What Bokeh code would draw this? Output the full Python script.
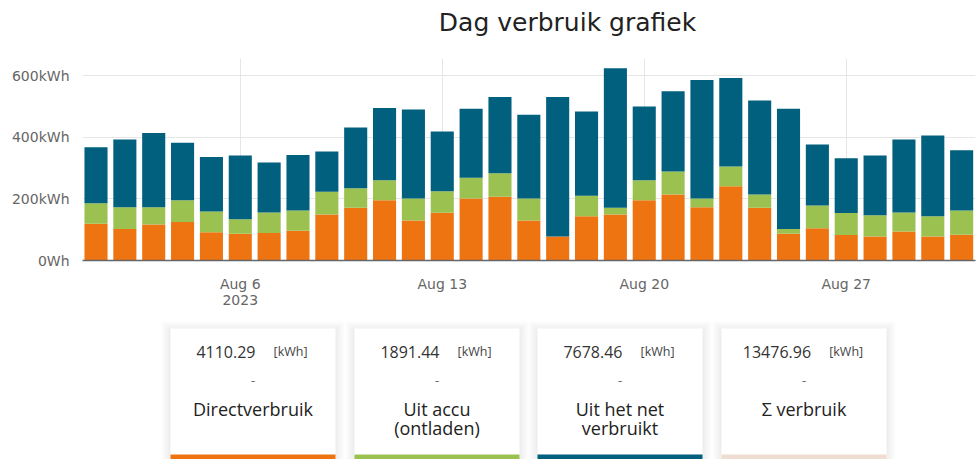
from bokeh.plotting import figure
from bokeh.models import ColumnDataSource, Range1d, FixedTicker
from bokeh.layouts import column
from bokeh.core.properties import value
from bokeh.embed import file_html
from bokeh.resources import INLINE

# ---------------- data ----------------
days = list(range(1, 32))  # August 2023
direct = [119, 102, 117, 125, 92, 87, 89, 97, 149, 171, 196, 130, 155, 201, 207, 130,
          78, 144, 149, 196, 214, 173, 241, 171, 87, 105, 83, 78, 94, 78, 84]
accu = [67, 71, 56, 71, 67, 47, 67, 65, 74, 64, 65, 71, 70, 68, 76, 71,
        0, 66, 22, 65, 75, 28, 64, 43, 15, 74, 71, 69, 62, 66, 78]
net = [182, 220, 241, 186, 177, 207, 162, 181, 131, 197, 234, 289, 194, 224, 248, 272,
       453, 274, 453, 239, 261, 385, 288, 306, 391, 198, 178, 194, 237, 262, 196]
series = ["direct", "accu", "net"]
colors = ["#EE7412", "#9BC250", "#00607D"]

title_text = "Dag verbruik grafiek"
x_ticks = [6, 13, 20, 27]
x_tick_labels = ["Aug 6\n2023", "Aug 13", "Aug 20", "Aug 27"]
y_ticks = [0, 200, 400, 600]
y_tick_labels = ["0Wh", "200kWh", "400kWh", "600kWh"]

card_values = ["4110.29", "1891.44", "7678.46", "13476.96"]
card_unit = "[kWh]"
card_labels = [["Directverbruik"], ["Uit accu", "(ontladen)"],
               ["Uit het net", "verbruikt"], ["\u03a3 verbruik"]]
card_colors = ["#EE7412", "#9BC250", "#00607D", "#EEDDD0"]

# ---------------- layout constants ----------------
W = 979
TITLE_H = 50
TOP_H = 268
BOT_H = 141
FL, FR = 82, 975          # frame left / right (page px)


def blank(h):
    f = figure(width=W, height=h, output_backend="svg", toolbar_location=None,
               x_range=Range1d(FL, FR), y_range=Range1d(h, 0),
               min_border_left=FL, min_border_right=W - FR,
               min_border_top=0, min_border_bottom=0)
    f.outline_line_color = None
    f.axis.visible = False
    f.grid.visible = False
    return f


# ---------------- title ----------------
t = blank(TITLE_H)
t.text(x=[567], y=[21.5], text=[title_text], text_align="center",
       text_baseline="alphabetic", text_font=value("DejaVu Sans"),
       text_font_size="25px", text_color="#222222")

# ---------------- chart ----------------
source = ColumnDataSource(dict(day=days, direct=direct, accu=accu, net=net))

p = figure(width=W, height=TOP_H, output_backend="svg", toolbar_location=None,
           x_range=Range1d(0.532, 31.48), y_range=Range1d(0, 656),
           min_border_left=FL, min_border_right=W - FR, min_border_top=8,
           min_border_bottom=58)
p.outline_line_color = None
p.background_fill_color = "white"
p.border_fill_color = "white"

p.vbar_stack(series, x="day", width=0.8, source=source, color=colors,
             line_color=None)

# x axis
p.xaxis.ticker = FixedTicker(ticks=x_ticks)
p.xaxis.major_label_overrides = {tk: lb for tk, lb in zip(x_ticks, x_tick_labels)}
p.xaxis.axis_line_color = "#666666"
p.xaxis.axis_line_width = 1.5
p.xaxis.major_tick_line_color = None
p.xaxis.minor_tick_line_color = None
p.xaxis.major_label_text_font = "DejaVu Sans"
p.xaxis.major_label_text_font_size = "14px"
p.xaxis.major_label_text_color = "#666666"
p.xaxis.major_label_text_line_height = 1.05
p.xaxis.major_label_standoff = 9

# y axis
p.yaxis.ticker = FixedTicker(ticks=y_ticks)
p.yaxis.major_label_overrides = {tk: lb for tk, lb in zip(y_ticks, y_tick_labels)}
p.yaxis.axis_line_color = None
p.yaxis.major_tick_line_color = None
p.yaxis.minor_tick_line_color = None
p.yaxis.major_label_text_font = "DejaVu Sans"
p.yaxis.major_label_text_font_size = "14px"
p.yaxis.major_label_text_color = "#666666"
p.yaxis.major_label_standoff = 7

p.xgrid.grid_line_color = "#e6e6e6"
p.ygrid.grid_line_color = "#e6e6e6"

# ---------------- cards ----------------
q = blank(BOT_H)

card_left = [170, 354, 537, 721]
card_w = 165
card_top = 10
card_bot = 150

# shadows
for i in range(1, 10):
    q.quad(left=[l - i for l in card_left], right=[l + card_w + i for l in card_left],
           top=[card_top - i + 2] * 4, bottom=[card_bot] * 4,
           fill_color="#000000", fill_alpha=0.009, line_color=None)
q.quad(left=card_left, right=[l + card_w for l in card_left],
       top=[card_top] * 4, bottom=[card_bot] * 4,
       fill_color="white", line_color=None)
q.quad(left=card_left, right=[l + card_w for l in card_left],
       top=[136] * 4, bottom=[card_bot] * 4,
       fill_color=card_colors, line_color=None)


# value + unit
def est_width(s, fs):
    w = 0.0
    for ch in s:
        w += 0.27 if ch == "." else 0.572
    return w * fs


vx, ux = [], []
for l, v in zip(card_left, card_values):
    vw = est_width(v, 16)
    uw = 36
    gap = 18
    total = vw + gap + uw
    start = l + card_w / 2 - total / 2
    vx.append(start)
    ux.append(start + vw + gap)

q.text(x=vx, y=[33] * 4, text=card_values, text_align="left",
       text_baseline="middle", text_font=value("Open Sans"),
       text_font_size="16px", text_color="#333333")
q.text(x=ux, y=[33] * 4, text=[card_unit] * 4, text_align="left",
       text_baseline="middle", text_font=value("Open Sans"),
       text_font_size="12.5px", text_color="#444444")
cx = [l + card_w / 2 for l in card_left]
q.text(x=cx, y=[62] * 4, text=["-"] * 4, text_align="center",
       text_baseline="middle", text_font=value("Open Sans"),
       text_font_size="13px", text_color="#666666")

lx, ly, lt = [], [], []
for c, lines in zip(cx, card_labels):
    for j, tx in enumerate(lines):
        lx.append(c)
        ly.append(90 + 19 * j)
        lt.append(tx)
q.text(x=lx, y=ly, text=lt, text_align="center", text_baseline="middle",
       text_font=value("Open Sans"), text_font_size="18px", text_color="#222222")

layout = column(t, p, q, spacing=0)
open("out.html", "w").write(file_html(layout, INLINE))
